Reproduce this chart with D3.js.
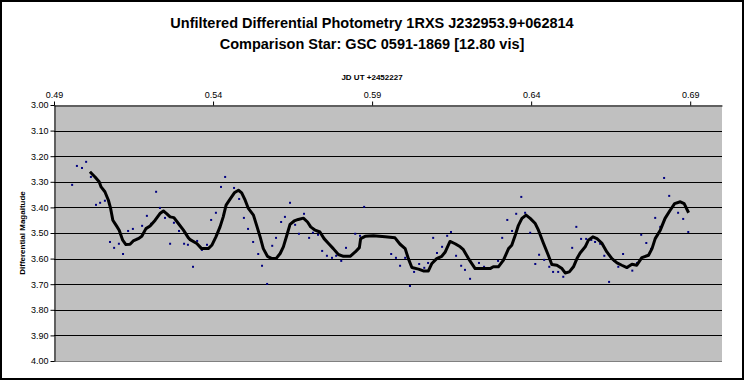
<!DOCTYPE html>
<html><head><meta charset="utf-8">
<script src="https://cdn.jsdelivr.net/npm/d3@7"></script>
<style>body{margin:0;background:#fff}svg{display:block}text{font-family:"Liberation Sans",Arial,sans-serif}</style>
</head><body>
<svg id="c" width="744" height="380"></svg>
<script>
const titleLines = ["Unfiltered Differential Photometry 1RXS J232953.9+062814", "Comparison Star: GSC 0591-1869 [12.80 vis]"];
const xTitle = "JD UT +2452227";
const yTitle = "Differential Magaitude";
const xTicks = [0.49, 0.54, 0.59, 0.64, 0.69];
const yTicks = [3.0, 3.1, 3.2, 3.3, 3.4, 3.5, 3.6, 3.7, 3.8, 3.9, 4.0];

// observations
const obsJD = [0.4957,0.4972,0.4988,0.5001,0.5016,0.5032,0.5045,0.5060,0.5076,0.5089,0.5104,0.5117,0.5133,0.5148,0.5161,0.5177,0.5192,0.5205,0.5221,0.5233,0.5249,0.5265,0.5277,0.5293,0.5309,0.5321,0.5337,0.5350,0.5365,0.5381,0.5394,0.5409,0.5425,0.5438,0.5466,0.5482,0.5497,0.5510,0.5526,0.5542,0.5554,0.5570,0.5586,0.5598,0.5614,0.5626,0.5642,0.5658,0.5670,0.5686,0.5702,0.5714,0.5730,0.5743,0.5758,0.5774,0.5787,0.5803,0.5818,0.5847,0.5862,0.5875,0.5960,0.5975,0.5988,0.6004,0.6019,0.6032,0.6048,0.6064,0.6076,0.6092,0.6104,0.6120,0.6136,0.6148,0.6164,0.6180,0.6192,0.6208,0.6236,0.6252,0.6296,0.6309,0.6325,0.6340,0.6353,0.6369,0.6381,0.6397,0.6413,0.6425,0.6441,0.6457,0.6469,0.6485,0.6501,0.6529,0.6542,0.6557,0.6573,0.6589,0.6601,0.6617,0.6630,0.6645,0.6661,0.6674,0.6689,0.6702,0.6718,0.6733,0.6746,0.6762,0.6777,0.6790,0.6806,0.6818,0.6834,0.6862,0.6878,0.6894];
const obsMag = [3.312,3.238,3.246,3.222,3.281,3.390,3.382,3.374,3.535,3.558,3.542,3.582,3.492,3.484,3.523,3.472,3.433,3.464,3.339,3.402,3.441,3.542,3.460,3.492,3.542,3.546,3.632,3.531,3.566,3.546,3.449,3.421,3.320,3.281,3.324,3.367,3.441,3.484,3.535,3.582,3.628,3.699,3.550,3.519,3.457,3.437,3.382,3.468,3.503,3.425,3.519,3.499,3.507,3.570,3.589,3.597,3.589,3.609,3.558,3.503,3.511,3.398,3.582,3.597,3.628,3.597,3.707,3.652,3.621,3.636,3.617,3.519,3.578,3.554,3.511,3.496,3.589,3.628,3.644,3.679,3.617,3.632,3.609,3.519,3.449,3.492,3.425,3.359,3.421,3.499,3.621,3.585,3.605,3.632,3.652,3.652,3.671,3.558,3.476,3.523,3.523,3.527,3.535,3.542,3.589,3.691,3.609,3.632,3.582,3.636,3.647,3.617,3.507,3.539,3.562,3.441,3.476,3.285,3.355,3.421,3.445,3.496];

// moving-average trend line
const trendJD = [0.5013,0.5029,0.5042,0.5048,0.5060,0.5071,0.5078,0.5085,0.5097,0.5105,0.5116,0.5126,0.5139,0.5149,0.5165,0.5176,0.5189,0.5202,0.5218,0.5233,0.5244,0.5254,0.5265,0.5277,0.5291,0.5307,0.5322,0.5328,0.5349,0.5364,0.5385,0.5396,0.5409,0.5422,0.5432,0.5441,0.5453,0.5467,0.5480,0.5490,0.5501,0.5511,0.5527,0.5537,0.5548,0.5558,0.5571,0.5585,0.5598,0.5611,0.5621,0.5632,0.5642,0.5655,0.5668,0.5684,0.5697,0.5707,0.5721,0.5736,0.5749,0.5763,0.5778,0.5794,0.5810,0.5831,0.5847,0.5860,0.5864,0.5878,0.5904,0.5941,0.5972,0.5988,0.6004,0.6014,0.6025,0.6046,0.6061,0.6077,0.6088,0.6103,0.6119,0.6130,0.6145,0.6161,0.6177,0.6187,0.6203,0.6224,0.6245,0.6271,0.6281,0.6297,0.6313,0.6329,0.6339,0.6350,0.6360,0.6371,0.6384,0.6397,0.6413,0.6423,0.6439,0.6454,0.6465,0.6481,0.6497,0.6507,0.6520,0.6533,0.6544,0.6554,0.6570,0.6580,0.6594,0.6607,0.6622,0.6638,0.6654,0.6670,0.6685,0.6701,0.6717,0.6732,0.6748,0.6769,0.6780,0.6790,0.6806,0.6821,0.6837,0.6851,0.6869,0.6881,0.6895];
const trendMag = [3.261,3.281,3.300,3.320,3.339,3.372,3.404,3.450,3.473,3.489,3.528,3.545,3.544,3.531,3.522,3.513,3.483,3.473,3.450,3.424,3.414,3.424,3.437,3.440,3.463,3.489,3.518,3.526,3.541,3.561,3.561,3.548,3.515,3.476,3.437,3.391,3.369,3.343,3.333,3.343,3.372,3.404,3.430,3.470,3.515,3.561,3.591,3.600,3.600,3.580,3.554,3.509,3.466,3.453,3.447,3.442,3.457,3.476,3.489,3.496,3.522,3.541,3.561,3.584,3.591,3.591,3.574,3.557,3.522,3.513,3.511,3.515,3.519,3.544,3.561,3.600,3.635,3.641,3.648,3.648,3.619,3.600,3.591,3.574,3.533,3.542,3.554,3.565,3.600,3.639,3.639,3.639,3.632,3.632,3.606,3.561,3.548,3.509,3.470,3.443,3.430,3.443,3.463,3.489,3.541,3.587,3.623,3.626,3.639,3.656,3.652,3.632,3.600,3.578,3.554,3.528,3.515,3.522,3.539,3.574,3.600,3.617,3.626,3.635,3.622,3.626,3.596,3.587,3.561,3.522,3.489,3.443,3.411,3.385,3.378,3.385,3.421];

const svg = d3.select("#c");
const W = 744, H = 380;
const x = d3.scaleLinear().domain([0.49, 0.70]).range([54, 722]);
const y = d3.scaleLinear().domain([3.0, 4.0]).range([105, 361]);

svg.append("rect").attr("x", 1).attr("y", 1).attr("width", W - 2).attr("height", H - 2)
  .attr("fill", "#fff").attr("stroke", "#000").attr("stroke-width", 2);

// plot area
svg.append("rect").attr("x", x(0.49)).attr("y", y(3.0))
  .attr("width", x(0.70) - x(0.49)).attr("height", y(4.0) - y(3.0))
  .attr("fill", "#c0c0c0");

// gridlines
svg.append("g").selectAll("line").data(yTicks.slice(1, -1)).join("line")
  .attr("x1", x(0.49)).attr("x2", x(0.70))
  .attr("y1", d => Math.round(y(d)) + 0.5).attr("y2", d => Math.round(y(d)) + 0.5)
  .attr("stroke", "#000").attr("stroke-width", 1);
svg.append("line").attr("x1", x(0.49)).attr("x2", x(0.70))
  .attr("y1", y(4.0) + 0.5).attr("y2", y(4.0) + 0.5).attr("stroke", "#808080");

// axes
const fmt = d3.format(".2f");
const gx = svg.append("g").attr("transform", `translate(0,${y(3.0) + 0.5})`)
  .call(d3.axisTop(x).tickValues(xTicks).tickFormat(fmt).tickSize(4).tickPadding(4).tickSizeOuter(0));
const gy = svg.append("g").attr("transform", `translate(${x(0.49) + 0.5},0)`)
  .call(d3.axisLeft(y).tickValues(yTicks).tickFormat(fmt).tickSize(4).tickPadding(2).tickSizeOuter(0));
[gx, gy].forEach(g => {
  g.select(".domain").attr("stroke", "#000");
  g.selectAll(".tick line").attr("stroke", "#000");
  g.selectAll("text").attr("font-family", "'Liberation Sans',Arial,sans-serif")
    .attr("font-size", 9).attr("fill", "#000");
});

// points
svg.append("g").selectAll("rect").data(obsJD.map((d, i) => [d, obsMag[i]])).join("rect")
  .attr("x", d => x(d[0]) - 1).attr("y", d => y(d[1]) - 1)
  .attr("width", 2).attr("height", 2).attr("fill", "#000080");

// trend line
svg.append("path").datum(trendJD.map((d, i) => [d, trendMag[i]]))
  .attr("fill", "none").attr("stroke", "#000").attr("stroke-width", 3)
  .attr("stroke-linejoin", "round")
  .attr("d", d3.line().x(d => x(d[0])).y(d => y(d[1])));

// titles
svg.append("text").attr("x", 372).attr("y", 28).attr("text-anchor", "middle")
  .attr("font-size", 14.5).attr("font-weight", "bold").text(titleLines[0]);
svg.append("text").attr("x", 372).attr("y", 49).attr("text-anchor", "middle")
  .attr("font-size", 14.5).attr("font-weight", "bold").text(titleLines[1]);
svg.append("text").attr("x", 372).attr("y", 80).attr("text-anchor", "middle")
  .attr("font-size", 8).attr("font-weight", "bold").text(xTitle);
svg.append("text").attr("transform", `translate(25,${(y(3.0) + y(4.0)) / 2}) rotate(-90)`)
  .attr("text-anchor", "middle").attr("font-size", 8).attr("font-weight", "bold").text(yTitle);
</script>
</body></html>
